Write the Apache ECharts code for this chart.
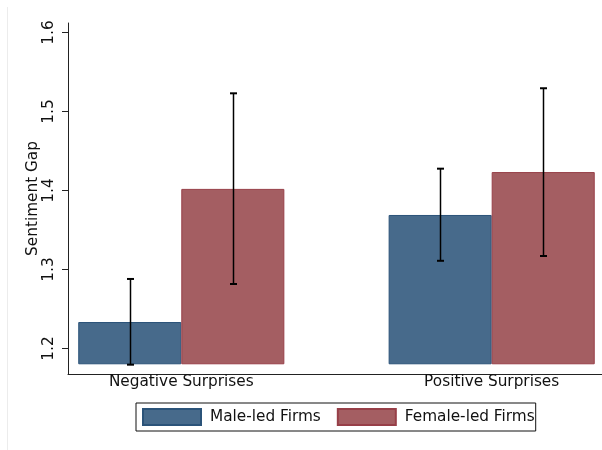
<!DOCTYPE html>
<html>
<head>
<meta charset="utf-8">
<script src="https://cdn.jsdelivr.net/npm/echarts@6/dist/echarts.min.js"></script>
<style>
  html, body { margin: 0; padding: 0; background: #fff; }
  #chart { width: 602px; height: 450px; }
</style>
</head>
<body>
<div id="chart"></div>
<script>
// Mean sentiment gap with confidence intervals, by surprise direction and CEO gender
const groups = ['Negative Surprises', 'Positive Surprises'];
const seriesNames = ['Male-led Firms', 'Female-led Firms'];

const maleMean = [1.2335, 1.369];
const maleLow = [1.1795, 1.311];
const maleHigh = [1.288, 1.4276];

const femaleMean = [1.402, 1.4233];
const femaleLow = [1.2816, 1.3171];
const femaleHigh = [1.523, 1.5294];

const yTicks = [1.2, 1.3, 1.4, 1.5, 1.6];
const barBase = 1.18;

// layout (axis units)
const BAR_W = 0.332;
const FONT = 'DejaVu Sans';
const FS = 15.3;

const BLUE = '#476a8b', BLUE_EDGE = '#2b5379';
const RED = '#a45e62', RED_EDGE = '#973f48';

function rows(mean, low, high) {
  return groups.map((g, i) => [i, mean[i], low[i], high[i]]);
}

function barRenderer(side, fill, edge) {
  return function (params, api) {
    const i = api.value(0);
    const mean = api.value(1), lo = api.value(2), hi = api.value(3);
    const x0 = side < 0 ? i - BAR_W : i;
    const x1 = x0 + BAR_W;
    const xc = (x0 + x1) / 2;
    const tl = api.coord([x0, mean]);
    const br = api.coord([x1, barBase]);
    const pHi = api.coord([xc, hi]);
    const pLo = api.coord([xc, lo]);
    const cx = Math.round(pHi[0]) + 0.5;
    const cap = 3.5;
    return {
      type: 'group',
      children: [
        {
          type: 'rect',
          shape: { x: tl[0] + 0.5, y: tl[1] + 0.5, width: br[0] - tl[0] - 1, height: br[1] - tl[1] - 1 },
          style: { fill: fill, stroke: edge, lineWidth: 1 }
        },
        {
          type: 'line', z2: 10,
          shape: { x1: cx, y1: pHi[1], x2: cx, y2: pLo[1] },
          style: { stroke: '#000', lineWidth: 1.5 }
        },
        {
          type: 'line', z2: 10,
          shape: { x1: cx - cap, y1: pHi[1], x2: cx + cap, y2: pHi[1] },
          style: { stroke: '#000', lineWidth: 2 }
        },
        {
          type: 'line', z2: 10,
          shape: { x1: cx - cap, y1: pLo[1], x2: cx + cap, y2: pLo[1] },
          style: { stroke: '#000', lineWidth: 2 }
        }
      ]
    };
  };
}

const chart = echarts.init(document.getElementById('chart'), null, { renderer: 'canvas' });

chart.setOption({
  animation: false,
  backgroundColor: '#fff',
  textStyle: { fontFamily: FONT },
  grid: { left: 68, right: 0, top: 23, bottom: 76, containLabel: false },
  xAxis: {
    type: 'value',
    min: -0.365,
    max: 1.3554,
    splitLine: { show: false },
    axisLine: { show: true, onZero: false, lineStyle: { color: '#222', width: 1 } },
    axisTick: { show: false },
    axisLabel: {
      customValues: [0, 1],
      formatter: (v) => groups[Math.round(v)],
      color: '#111',
      fontFamily: FONT,
      fontSize: FS,
      margin: 1
    }
  },
  yAxis: {
    type: 'value',
    min: 1.1677,
    max: 1.612,
    name: 'Sentiment Gap',
    nameLocation: 'middle',
    nameGap: 27,
    nameRotate: 90,
    nameMoveOverlap: false,
    nameTextStyle: { color: '#111', fontFamily: FONT, fontSize: FS },
    splitLine: { show: false },
    axisLine: { show: true, onZero: false, lineStyle: { color: '#222', width: 1 } },
    axisTick: { show: true, customValues: yTicks, length: 6, lineStyle: { color: '#222', width: 1 } },
    axisLabel: {
      customValues: yTicks,
      rotate: 90,
      margin: 11,
      color: '#111',
      fontFamily: FONT,
      fontSize: FS,
      formatter: (v) => v.toFixed(1)
    }
  },
  legend: {
    data: seriesNames,
    left: 136,
    top: 403,
    orient: 'horizontal',
    icon: 'rect',
    itemWidth: 58,
    itemHeight: 16,
    itemGap: 16,
    padding: [5, 1, 5, 6],
    borderColor: '#111',
    borderWidth: 1,
    borderRadius: 0,
    backgroundColor: '#fff',
    selectedMode: false,
    textStyle: { color: '#111', fontFamily: FONT, fontSize: FS, padding: [0, 0, 0, 4] }
  },
  graphic: [
    {
      type: 'line',
      shape: { x1: 7.5, y1: 7, x2: 7.5, y2: 450 },
      style: { stroke: '#ececec', lineWidth: 1 },
      silent: true
    }
  ],
  series: [
    {
      name: seriesNames[0],
      type: 'custom',
      data: rows(maleMean, maleLow, maleHigh),
      encode: { x: 0, y: [1, 2, 3] },
      itemStyle: { color: BLUE, borderColor: BLUE_EDGE, borderWidth: 1 },
      renderItem: barRenderer(-1, BLUE, BLUE_EDGE)
    },
    {
      name: seriesNames[1],
      type: 'custom',
      data: rows(femaleMean, femaleLow, femaleHigh),
      encode: { x: 0, y: [1, 2, 3] },
      itemStyle: { color: RED, borderColor: RED_EDGE, borderWidth: 1 },
      renderItem: barRenderer(1, RED, RED_EDGE)
    }
  ]
});
</script>
</body>
</html>
